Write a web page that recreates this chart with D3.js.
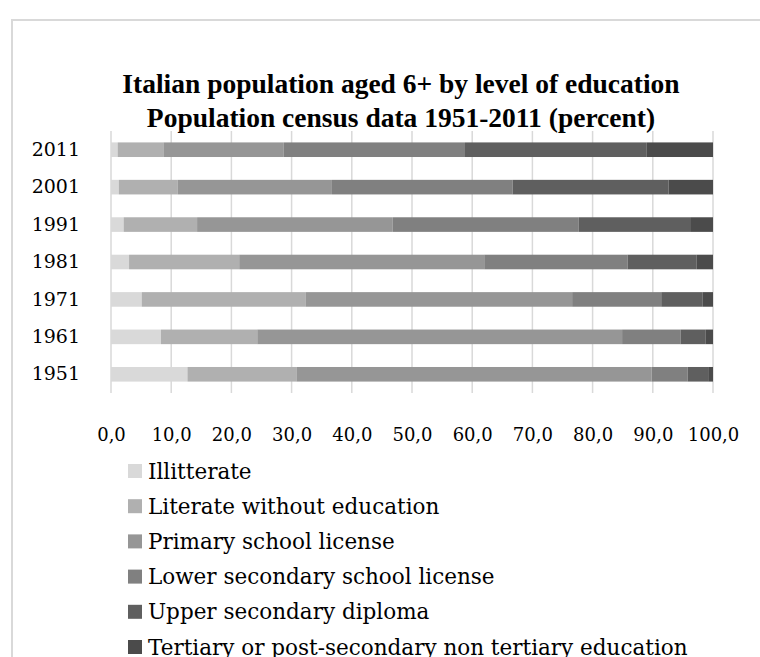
<!DOCTYPE html>
<html>
<head>
<meta charset="utf-8">
<script src="https://cdn.jsdelivr.net/npm/d3@7"></script>
<style>
html,body{margin:0;padding:0;background:#fff;}
svg{display:block;}
</style>
</head>
<body>
<svg id="chart" width="760" height="657"></svg>
<script>
// ---- data ----
const years = ["2011", "2001", "1991", "1981", "1971", "1961", "1951"];
const seriesNames = [
  "Illitterate",
  "Literate without education",
  "Primary school license",
  "Lower secondary school license",
  "Upper secondary diploma",
  "Tertiary or post-secondary non tertiary education"
];
const illiterate      = [1.1, 1.3, 2.1, 3.0, 5.1, 8.3, 12.7];
const literateNoEdu   = [7.6, 9.8, 12.2, 18.3, 27.2, 16.0, 18.1];
const primary         = [20.0, 25.6, 32.5, 40.7, 44.3, 60.6, 59.0];
const lowerSecondary  = [30.1, 30.0, 30.9, 23.8, 14.8, 9.7, 6.0];
const upperSecondary  = [30.2, 25.9, 18.5, 11.5, 6.9, 4.2, 3.4];
const tertiary        = [11.0, 7.4, 3.8, 2.7, 1.7, 1.2, 0.8];
const tickValues = [0, 10, 20, 30, 40, 50, 60, 70, 80, 90, 100];
const titleLines = [
  "Italian population aged 6+ by level of education",
  "Population census data 1951-2011 (percent)"
];
const colors = ["#d9d9d9", "#b0b0b0", "#969696", "#808080", "#5f5f5f", "#4b4b4b"];

// ---- build ----
const allSeries = [illiterate, literateNoEdu, primary, lowerSecondary, upperSecondary, tertiary];
const keys = seriesNames;
const table = years.map((y, i) => {
  const row = {year: y};
  keys.forEach((k, j) => row[k] = allSeries[j][i]);
  return row;
});
const stacked = d3.stack().keys(keys)(table);

const svg = d3.select("#chart");
const serif = "'DejaVu Serif', 'Liberation Serif', serif";

svg.append("rect")
  .attr("x", 12).attr("y", 20).attr("width", 800).attr("height", 800)
  .attr("fill", "#fff").attr("stroke", "#d9d9d9").attr("stroke-width", 2);

const x = d3.scaleLinear().domain([0, 100]).range([111, 713]);
const y = d3.scaleBand().domain(years).range([131, 393]).paddingInner(0.61).paddingOuter(0.305);

// title
svg.append("g").selectAll("text").data(titleLines).join("text")
  .attr("x", 401).attr("y", (d, i) => 93 + i * 34)
  .attr("text-anchor", "middle")
  .attr("font-family", "'Liberation Serif', serif")
  .attr("font-weight", "bold")
  .attr("font-size", 27.5)
  .attr("fill", "#000")
  .text(d => d);

// gridlines
svg.append("g").selectAll("line").data(tickValues).join("line")
  .attr("x1", d => x(d)).attr("x2", d => x(d))
  .attr("y1", 131).attr("y2", 393)
  .attr("stroke", "#d9d9d9").attr("stroke-width", 1.5);

// bars
svg.append("g").selectAll("g").data(stacked).join("g")
  .attr("fill", (d, i) => colors[i])
  .selectAll("rect").data(d => d).join("rect")
  .attr("x", d => x(d[0]))
  .attr("width", d => x(d[1]) - x(d[0]))
  .attr("y", d => y(d.data.year))
  .attr("height", y.bandwidth());

// x axis labels
const fmt = v => d3.format(".1f")(v).replace(".", ",");
const xAxis = d3.axisBottom(x).tickValues(tickValues).tickFormat(fmt).tickSize(0).tickPadding(0);
const gx = svg.append("g").attr("transform", "translate(0,428)").call(xAxis);
gx.select(".domain").remove();
gx.selectAll("text").attr("font-family", serif).attr("font-size", 18).attr("fill", "#000").attr("dy", "0.71em");

// y axis labels
const yAxis = d3.axisLeft(y).tickSize(0).tickPadding(0);
const gy = svg.append("g").attr("transform", "translate(80,0)").call(yAxis);
gy.select(".domain").remove();
gy.selectAll("text").attr("font-family", serif).attr("font-size", 19).attr("fill", "#000");

// legend
const leg = svg.append("g").selectAll("g").data(seriesNames).join("g")
  .attr("transform", (d, i) => `translate(128,${471 + i * 35.2})`);
leg.append("rect").attr("x", 0).attr("y", -7).attr("width", 14).attr("height", 14)
  .attr("fill", (d, i) => colors[i]);
leg.append("text").attr("x", 20).attr("y", 0).attr("dy", "0.35em")
  .attr("font-family", serif).attr("font-size", 21.5).attr("fill", "#000")
  .text(d => d);
</script>
</body>
</html>
